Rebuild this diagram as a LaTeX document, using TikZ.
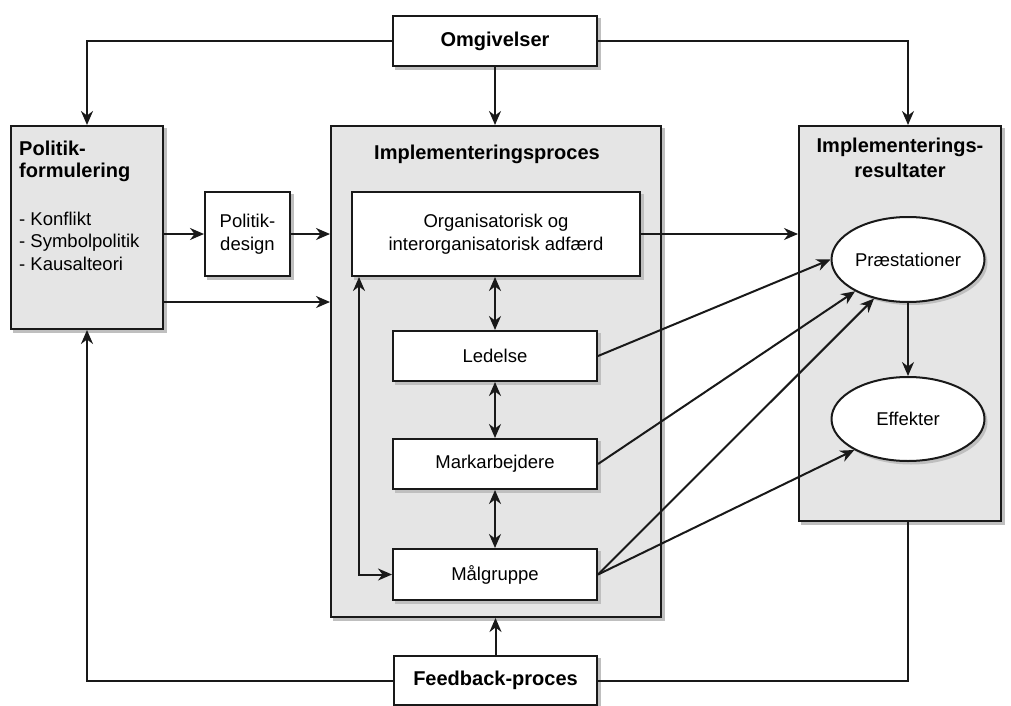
\documentclass[tikz,border=0pt]{standalone}
\usepackage{fontspec}
\setmainfont{Liberation Sans}
\usetikzlibrary{shapes.geometric,arrows.meta}

\pgfdeclarelayer{outershadow}
\pgfdeclarelayer{outerbox}
\pgfdeclarelayer{innershadow}
\pgfsetlayers{outershadow,outerbox,innershadow,main}

\begin{document}
\begin{tikzpicture}[x=1pt,y=-1pt,
  txt/.style={font=\fontsize{18.5}{23}\selectfont},
  hdr/.style={font=\fontsize{20}{25}\selectfont\bfseries},
  shadowfill/.style={fill=black!25, draw=none},
  blk/.style={draw=black!90, line width=2pt, rectangle, inner sep=0pt, align=center},
  grayblk/.style={blk, fill=black!10},
  whiteblk/.style={blk, fill=white},
  oval/.style={draw=black!90, line width=2pt, ellipse, fill=white, inner sep=0pt, txt},
  textline/.style={inner sep=0pt},
  conn/.style={line width=2pt, draw=black!90},
  arr/.style={conn, -{Stealth[length=14pt,width=12pt,inset=4.5pt]}},
  darr/.style={conn, {Stealth[length=14pt,width=12pt,inset=4.5pt]}-{Stealth[length=14pt,width=12pt,inset=4.5pt]}},
  sh/.style={shift={(3,3)}},
]
\useasboundingbox (0,0) rectangle (1011,706);

% outer blocks
\begin{pgfonlayer}{outerbox}
\node[grayblk, minimum width=152, minimum height=203] (pol) at (87,227.5) {};
\node[grayblk, minimum width=330, minimum height=491] (imp) at (496,371.5) {};
\node[grayblk, minimum width=202, minimum height=395] (res) at (900,323.5) {};
\end{pgfonlayer}
\begin{pgfonlayer}{outershadow}
\foreach \b in {pol,imp,res}
  \fill[shadowfill] ([sh]\b.south west) rectangle ([sh]\b.north east);
\end{pgfonlayer}

% headings and list inside the outer blocks
\node[textline, hdr, anchor=base west] (polA) at (19,155) {Politik-};
\node[textline, hdr, anchor=base west] (polB) at (19,177) {formulering};
\node[textline, txt, anchor=base west] (polC) at (19,225) {- Konflikt};
\node[textline, txt, anchor=base west] (polD) at (19,247) {- Symbolpolitik};
\node[textline, txt, anchor=base west] (polE) at (19,270) {- Kausalteori};
\node[textline, hdr, anchor=base] (impA) at (487,159) {Implementeringsproces};
\node[textline, hdr, anchor=base] (resA) at (900,152) {Implementerings-};
\node[textline, hdr, anchor=base] (resB) at (900,177) {resultater};

% inner blocks
\node[whiteblk, txt, minimum width=85, minimum height=84] (des) at (247.5,234) {Politik-\\design};
\node[whiteblk, txt, minimum width=288, minimum height=84] (org) at (496,234) {Organisatorisk og\\interorganisatorisk adfærd};
\node[whiteblk, txt, minimum width=204, minimum height=50] (led) at (495,356) {Ledelse};
\node[whiteblk, txt, minimum width=204, minimum height=50] (mark) at (495,464) {Markarbejdere};
\node[whiteblk, txt, minimum width=204, minimum height=51] (mal) at (495,574.5) {Målgruppe};
\node[oval, minimum width=153, minimum height=85] (pr) at (908,259.5) {Præstationer};
\node[oval, minimum width=153, minimum height=84] (eff) at (908,419) {Effekter};

% top and bottom blocks
\node[whiteblk, hdr, minimum width=204, minimum height=50] (omg) at (495,41) {Omgivelser};
\node[whiteblk, hdr, minimum width=203, minimum height=49] (fb) at (495.5,680.5) {Feedback-proces};

% shadows of the inner blocks
\begin{pgfonlayer}{innershadow}
\foreach \b in {des,org,led,mark,mal,omg,fb}
  \fill[shadowfill] ([sh]\b.south west) rectangle ([sh]\b.north east);
\foreach \b in {pr,eff}
  \fill[shadowfill] ([sh]\b.center) ellipse [x radius=76.5, y radius=42.5];
\end{pgfonlayer}

% helper points
\coordinate (low) at (0,302);
\coordinate (lp) at (359,0);

% connectors
\draw[arr] (omg.west) -| (pol.north);
\draw[arr] (omg.east) -| (pr.north |- res.north);
\draw[arr] (omg.south) -- (omg.south |- imp.north);
\draw[arr] (pol.east |- des.west) -- (des.west);
\draw[arr] (des.east) -- (des.east -| imp.west);
\draw[arr] (pol.east |- low) -- (imp.west |- low);
\draw[arr] (org.east) -- (org.east -| res.west);
\draw[darr] (led.north |- org.south) -- (led.north);
\draw[darr] (led.south) -- (mark.north);
\draw[darr] (mark.south) -- (mal.north);
\draw[darr] (lp |- org.south) |- (mal.west);
\draw[arr] (led.east) -- (pr.west);
\draw[arr] (mark.east) -- (pr.211);
\draw[arr] (mal.east) -- (pr.229);
\draw[arr] (mal.east) -- (eff.210);
\draw[arr] (pr.south) -- (eff.north);
\draw[arr] (fb.north) -- (fb.north |- imp.south);
\draw[arr] (fb.west) -| (pol.south);
\draw[conn] (fb.east) -| (pr.south |- res.south);
\end{tikzpicture}
\end{document}
